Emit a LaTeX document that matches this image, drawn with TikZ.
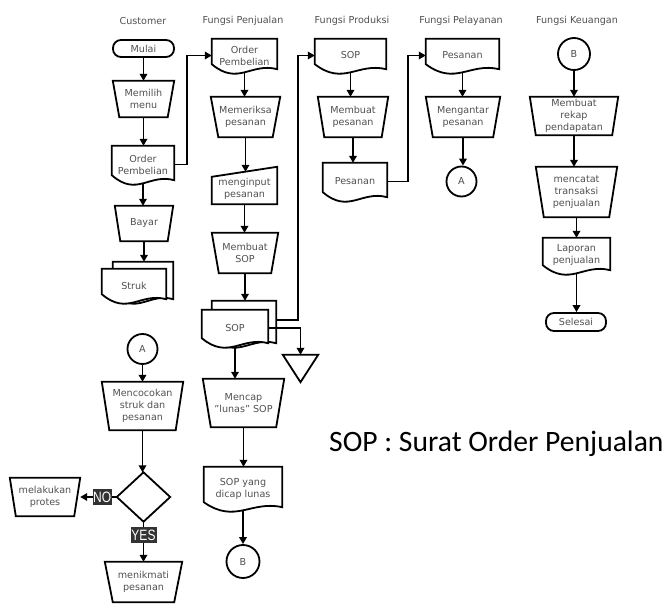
\documentclass[tikz,border=0pt]{standalone}
\usepackage{fontspec}
\setmainfont{DejaVu Sans}
\newfontfamily\legendfont{Carlito}
\newfontfamily\lblfont[FakeStretch=0.8]{Liberation Sans}
\usetikzlibrary{arrows.meta,calc,backgrounds}
\definecolor{txt}{HTML}{505050}
\definecolor{hdr}{HTML}{505050}
\definecolor{lblbg}{HTML}{333333}
\newcommand\mydocpath[5]{([xshift=#2,yshift=8pt+#5]#1.south west) -- ([xshift=#2,yshift=#4]#1.north west) -- ([xshift=#3,yshift=#4]#1.north east) -- ([xshift=#3,yshift=3pt+#5]#1.south east) .. controls ($([xshift=#2,yshift=#5]#1.south west)!0.6!([xshift=#3,yshift=#5]#1.south east)+(0pt,10pt)$) and ($([xshift=#2,yshift=#5]#1.south west)!0.4!([xshift=#3,yshift=#5]#1.south east)+(0pt,-14pt)$) .. ([xshift=#2,yshift=8pt+#5]#1.south west) -- cycle}
\begin{document}
\begin{tikzpicture}[x=1pt,y=-1pt,
  box/.style={inner sep=0pt, align=center, text=txt, font=\fontsize{9.6}{12}\selectfont},
  sz/.style 2 args={minimum width=#1, minimum height=#2},
  shp/.style={line width=1.8pt, line join=miter, draw=black},
  hdrtext/.style={text=hdr, font=\fontsize{9.6}{12}\selectfont, inner sep=0pt},
  manop/.style={box, append after command={\pgfextra{\draw[shp] (\tikzlastnode.north west) -- (\tikzlastnode.north east) -- ([xshift=-#1]\tikzlastnode.south east) -- ([xshift=#1]\tikzlastnode.south west) -- cycle;}}},
  doc/.style={box, append after command={\pgfextra{\draw[shp] \mydocpath{\tikzlastnode}{0pt}{0pt}{0pt}{0pt};}}},
  inp/.style={box, append after command={\pgfextra{\draw[shp] ([yshift=-7pt]\tikzlastnode.north west) -- ([yshift=3pt]\tikzlastnode.north east) -- ([yshift=3pt]\tikzlastnode.south east) -- ([yshift=3pt]\tikzlastnode.south west) -- cycle;}}},
  tri/.style={box, append after command={\pgfextra{\draw[shp] (\tikzlastnode.north west) -- (\tikzlastnode.north east) -- (\tikzlastnode.south) -- cycle;}}},
  dia/.style={box, append after command={\pgfextra{\draw[shp] (\tikzlastnode.north) -- (\tikzlastnode.east) -- (\tikzlastnode.south) -- (\tikzlastnode.west) -- cycle;}}},
  term/.style={box, draw=black, line width=1.8pt, rounded corners=8pt},
  circ/.style={box, circle, draw=black, line width=1.8pt},
  arr/.style={line width=1.8pt, -{Triangle[length=7pt,width=7.5pt]}},
  lbl/.style={fill=lblbg, text=white, font=\lblfont\fontsize{15}{15}\selectfont, inner xsep=0.5pt, inner ysep=0pt, minimum height=16pt}
]
\useasboundingbox (0,0) rectangle (665,604);

% headers
\node[hdrtext] (h1) at (143,21) {Customer};
\node[hdrtext] (h2) at (243,21) {Fungsi Penjualan};
\node[hdrtext] (h3) at (352,21) {Fungsi Produksi};
\node[hdrtext] (h4) at (461,21) {Fungsi Pelayanan};
\node[hdrtext] (h5) at (577,21) {Fungsi Keuangan};

% Customer
\node[term, sz={61pt}{17pt}] (mulai) at (143.5,48.5) {Mulai};
\node[manop=6.5pt, sz={61pt}{36pt}] (memilih) at (143.5,99) {Memilih\\menu};
\node[doc, sz={62pt}{37pt}] (orderC) at (143,164.5) {Order\\Pembelian};
\node[manop=5.5pt, sz={58pt}{35pt}] (bayar) at (144,223.5) {Bayar};
\node[box, sz={64pt}{33pt}] (struk) at (134,285.5) {Struk};
\node[circ, minimum size=30pt] (A2) at (142.5,349) {A};
\node[manop=7.5pt, sz={81pt}{48pt}] (cocok) at (142.5,406) {Mencocokan\\struk dan\\pesanan};
\node[dia, sz={53pt}{49pt}] (dec) at (143.5,497) {};
\node[manop=6pt, sz={70pt}{38pt}] (protes) at (45,497) {melakukan\\protes};
\node[manop=8pt, sz={77pt}{40pt}] (nikmat) at (143.5,582) {menikmati\\pesanan};

% Penjualan
\node[doc, sz={65pt}{33pt}] (orderP) at (244.5,55.5) {Order\\Pembelian};
\node[manop=7.5pt, sz={69pt}{40pt}] (periksa) at (245.5,117) {Memeriksa\\pesanan};
\node[inp, sz={65pt}{37pt}] (input) at (244.5,188.5) {menginput\\pesanan};
\node[manop=7pt, sz={66pt}{40pt}] (mSOP) at (245,253) {Membuat\\SOP};
\node[box, sz={66pt}{36pt}] (sop) at (235,328) {SOP};
\node[tri, sz={35pt}{27pt}] (tri) at (300.5,368.5) {};
\node[manop=8pt, sz={81pt}{48pt}] (mencap) at (243.5,403) {Mencap\\"lunas" SOP};
\node[doc, sz={78pt}{43pt}] (dicap) at (243,488.5) {SOP yang\\dicap lunas};
\node[circ, minimum size=33pt] (B1) at (243,561.5) {B};

% Produksi
\node[doc, sz={71pt}{33pt}] (sopProd) at (350.5,55.5) {SOP};
\node[manop=6.5pt, sz={70pt}{40pt}] (mPes) at (353,117) {Membuat\\pesanan};
\node[doc, sz={64pt}{37pt}] (pesProd) at (355,181.5) {Pesanan};

% Pelayanan
\node[doc, sz={73pt}{33pt}] (pesPel) at (462.5,55.5) {Pesanan};
\node[manop=7pt, sz={74pt}{40pt}] (antar) at (463,117) {Mengantar\\pesanan};
\node[circ, minimum size=30pt] (A1) at (461.5,181.5) {A};

% Keuangan
\node[circ, minimum size=32pt] (B2) at (574,54) {B};
\node[manop=6pt, sz={88pt}{38pt}] (rekap) at (574,116) {Membuat\\rekap\\pendapatan};
\node[manop=8pt, sz={81pt}{50pt}] (catat) at (576.5,192) {mencatat\\transaksi\\penjualan};
\node[doc, sz={67pt}{35pt}] (lapor) at (576.5,255.5) {Laporan\\penjualan};
\node[term, sz={60pt}{18pt}] (selesai) at (576,322) {Selesai};

% legend
\node[anchor=west, inner sep=0pt, font=\legendfont\fontsize{29.6}{34}\selectfont] (legend) at (329,444) {SOP : Surat Order Penjualan};

% multi documents
\begin{pgfonlayer}{background}
\draw[shp, fill=white] \mydocpath{struk}{11pt}{7pt}{7pt}{0pt};
\draw[shp, fill=white] \mydocpath{struk}{0pt}{0pt}{0pt}{0pt};
\draw[shp, fill=white] \mydocpath{sop}{10pt}{8pt}{9pt}{0pt};
\draw[shp, fill=white] \mydocpath{sop}{0pt}{0pt}{0pt}{0pt};
\end{pgfonlayer}

% connectors: Customer
\draw[arr] (mulai.south) -- (mulai.south |- memilih.north);
\draw[arr] (memilih.south) -- (memilih.south |- orderC.north);
\draw[arr] (orderC.south) -- (orderC.south |- bayar.north);
\draw[arr] (bayar.south) -- ([yshift=7pt]bayar.south |- struk.north);
\draw[arr] (orderC.east) -| ([xshift=-25pt]orderP.west) -- (orderP.west);
\draw[arr] (A2.south) -- (A2.south |- cocok.north);
\draw[arr] (cocok.south) -- (cocok.south |- dec.north);
\draw[arr] (dec.west) -- (protes.east) node[lbl, pos=0.4, minimum width=19pt] (noL) {NO};
\draw[arr] (dec.south) -- (nikmat.north) node[lbl, pos=0.33, minimum width=26pt] (yesL) {YES};

% Penjualan
\draw[arr] (orderP.south) -- (orderP.south |- periksa.north);
\draw[arr] (periksa.south) -- ([yshift=-2pt]periksa.south |- input.north);
\draw[arr] ([yshift=3pt]input.south) -- (input.south |- mSOP.north);
\draw[arr] (mSOP.south) -- ([yshift=9pt]mSOP.south |- sop.north);
\draw[arr] ([xshift=8pt,yshift=8pt]sop.east) -| ([xshift=-17pt]sopProd.west) -- (sopProd.west);
\draw[arr] (sop.east) -| (tri.north);
\draw[arr] (sop.south) -- (sop.south |- mencap.north);
\draw[arr] (mencap.south) -- (mencap.south |- dicap.north);
\draw[arr] (dicap.south) -- (dicap.south |- B1.north);

% Produksi
\draw[arr] (sopProd.south) -- (sopProd.south |- mPes.north);
\draw[arr] (mPes.south) -- (mPes.south |- pesProd.north);
\draw[arr] (pesProd.east) -| ([xshift=-18pt]pesPel.west) -- (pesPel.west);

% Pelayanan
\draw[arr] (pesPel.south) -- (pesPel.south |- antar.north);
\draw[arr] (antar.south) -- (antar.south |- A1.north);

% Keuangan
\draw[arr] (B2.south) -- (B2.south |- rekap.north);
\draw[arr] (rekap.south) -- (rekap.south |- catat.north);
\draw[arr] (catat.south) -- (catat.south |- lapor.north);
\draw[arr] (lapor.south) -- (lapor.south |- selesai.north);
\end{tikzpicture}
\end{document}
